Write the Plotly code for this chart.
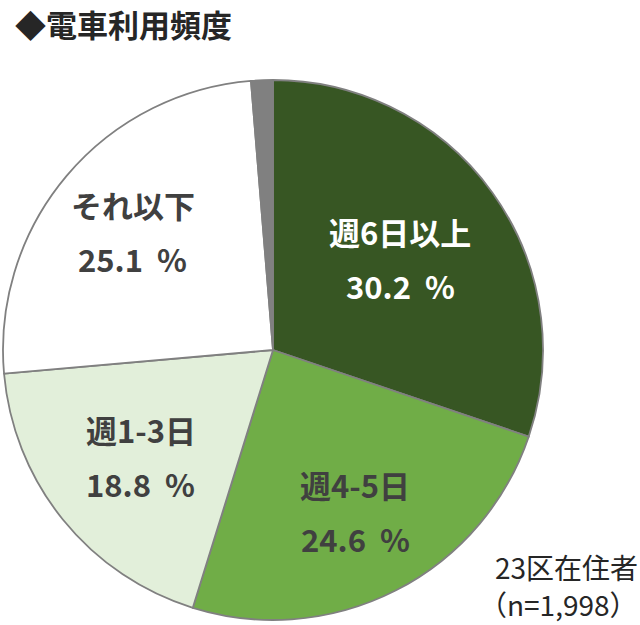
import math
import plotly.graph_objects as go

categories = ["週6日以上", "週4-5日", "週1-3日", "それ以下", "無回答"]
values = [30.2, 24.6, 18.8, 25.1, 1.3]
colors = ["#375623", "#70AD47", "#E2EFDA", "#FFFFFF", "#808080"]
label_colors = ["#FFFFFF", "#404040", "#404040", "#404040", None]
label_radius = [0.58, 0.67, 0.63, 0.68, None]

W, H = 640, 625
cx, cy, R = 273, 350, 270

fig = go.Figure(go.Pie(
    labels=categories,
    values=values,
    sort=False,
    direction="clockwise",
    rotation=0,
    marker=dict(colors=colors, line=dict(color="#808080", width=1.8)),
    textinfo="none",
    hoverinfo="label+percent",
    showlegend=False,
    domain=dict(x=[(cx - R) / W, (cx + R) / W], y=[(H - (cy + R)) / H, (H - (cy - R)) / H]),
))

annotations = []
total = sum(values)
cum = 0.0
font_family = "Noto Sans CJK JP, Noto Sans, sans-serif"
for cat, v, col, rf in zip(categories, values, label_colors, label_radius):
    mid = (cum + v / 2) / total * 2 * math.pi
    cum += v
    if rf is None:
        continue
    px = cx + rf * R * math.sin(mid)
    py = cy - rf * R * math.cos(mid)
    for text, dy in ((f"<b>{cat}</b>", -27), (f"<b>{v:.1f}&nbsp;&nbsp;%</b>", 27)):
        annotations.append(dict(
            x=px / W, y=1 - (py + dy) / H, xref="paper", yref="paper",
            text=text, showarrow=False, xanchor="center", yanchor="middle",
            font=dict(family=font_family, size=31, color=col),
        ))

annotations.append(dict(
    x=14 / W, y=1 - 24 / H, xref="paper", yref="paper", xanchor="left", yanchor="middle",
    text="<b>◆電車利用頻度</b>", showarrow=False, borderpad=0,
    font=dict(family=font_family, size=31, color="#262626"),
))
for text, py in (("23区在住者", 567), ("（n=1,998）", 604)):
    annotations.append(dict(
        x=1, y=1 - py / H, xref="paper", yref="paper", xanchor="right", yanchor="middle",
        text=text, showarrow=False,
        font=dict(family=font_family, size=28, color="#262626"),
    ))

fig.update_layout(
    width=W, height=H,
    margin=dict(l=0, r=0, t=0, b=0),
    paper_bgcolor="white", plot_bgcolor="white",
    annotations=annotations,
)

fig.write_html("out.html", config={"displayModeBar": False},
               post_script="document.body.style.margin='0';")
